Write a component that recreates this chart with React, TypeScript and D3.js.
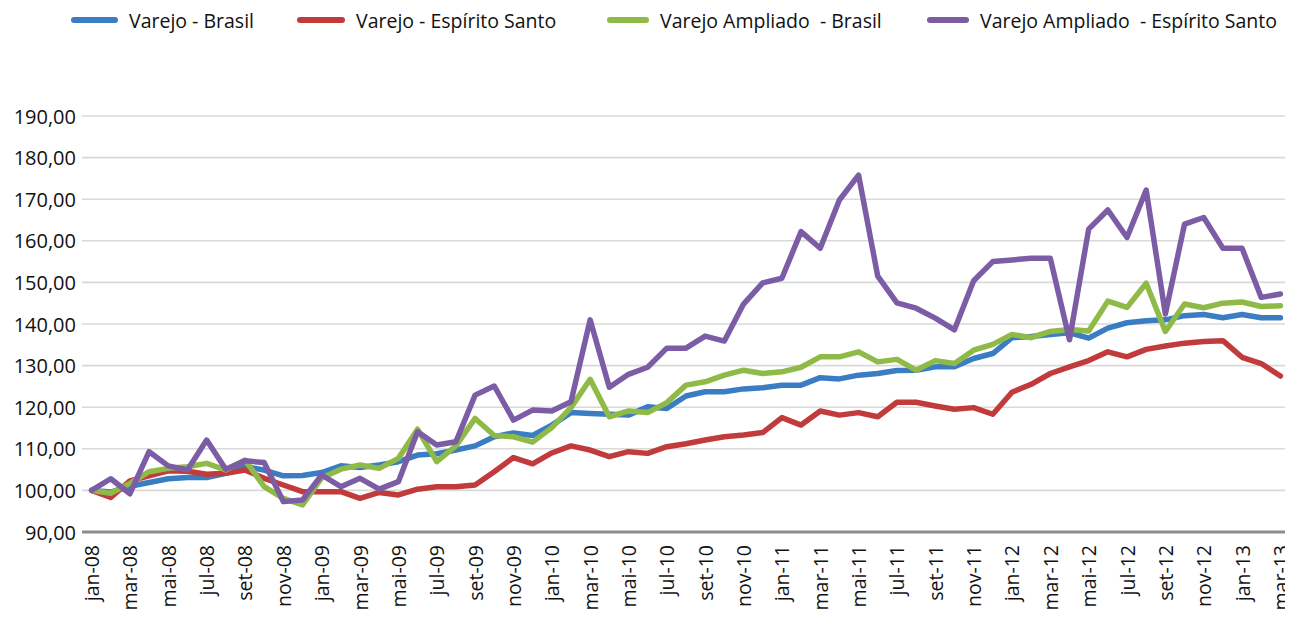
import * as d3 from 'd3';
import React from 'react';

const months = ['jan', 'fev', 'mar', 'abr', 'mai', 'jun', 'jul', 'ago', 'set', 'out', 'nov', 'dez'];
const years = ['08', '09', '10', '11', '12', '13'];
// jan-08 ... mar-13
const categories: string[] = [];
years.forEach((y) => months.forEach((m) => categories.push(`${m}-${y}`)));
categories.length = 63;

const varejoBrasil = [
  100.0, 99.6, 101.0, 101.9, 102.8, 103.1, 103.1, 104.1, 105.7, 104.9, 103.5, 103.6, 104.3,
  105.9, 105.5, 106.1, 106.9, 108.5, 108.8, 109.7, 110.7, 112.9, 113.8, 113.2, 115.7, 118.7,
  118.5, 118.3, 118.1, 120.1, 119.7, 122.7, 123.7, 123.7, 124.4, 124.7, 125.3, 125.3, 127.1,
  126.8, 127.7, 128.1, 128.8, 128.9, 129.7, 129.7, 131.7, 132.9, 136.7, 137.0, 137.5, 137.9,
  136.6, 139.0, 140.3, 140.8, 141.0, 142.0, 142.3, 141.5, 142.3, 141.5, 141.5,
];

const varejoES = [
  100.0, 98.3, 102.3, 103.5, 104.7, 104.6, 103.9, 104.1, 104.9, 102.9, 101.3, 99.7, 99.7,
  99.7, 98.1, 99.5, 98.9, 100.3, 100.9, 100.9, 101.3, 104.5, 107.9, 106.4, 109.0, 110.7,
  109.7, 108.1, 109.3, 108.9, 110.5, 111.2, 112.1, 112.9, 113.3, 113.9, 117.5, 115.7, 119.1,
  118.1, 118.7, 117.7, 121.2, 121.2, 120.3, 119.5, 119.9, 118.3, 123.6, 125.5, 128.1, 129.7,
  131.2, 133.3, 132.1, 133.9, 134.7, 135.4, 135.8, 136.0, 132.0, 130.5, 127.5,
];

const ampliadoBrasil = [
  100.0, 99.3, 101.7, 104.5, 105.3, 105.7, 106.5, 104.9, 107.3, 100.9, 98.1, 96.5, 103.0,
  105.1, 106.1, 105.3, 107.7, 114.7, 106.9, 110.7, 117.3, 113.2, 112.9, 111.6, 115.1, 119.9,
  126.7, 117.7, 119.1, 118.7, 121.1, 125.3, 126.1, 127.7, 128.9, 128.1, 128.5, 129.6, 132.1,
  132.1, 133.3, 130.9, 131.5, 128.9, 131.2, 130.5, 133.7, 135.1, 137.5, 136.7, 138.2, 138.7,
  138.3, 145.5, 144.0, 149.8, 138.2, 144.8, 143.9, 145.0, 145.3, 144.2, 144.4,
];

const ampliadoES = [
  100.0, 102.8, 99.2, 109.3, 105.9, 104.9, 112.1, 105.1, 107.1, 106.7, 97.3, 97.7, 103.7,
  100.9, 102.9, 100.3, 102.1, 114.1, 110.9, 111.7, 122.9, 125.1, 116.9, 119.3, 119.1, 121.3,
  141.0, 124.8, 127.9, 129.6, 134.2, 134.2, 137.1, 135.9, 144.8, 149.9, 151.0, 162.2, 158.2,
  169.8, 175.8, 151.5, 145.1, 143.8, 141.4, 138.6, 150.4, 155.0, 155.4, 155.8, 155.8, 136.2,
  162.8, 167.4, 160.8, 172.2, 142.4, 164.0, 165.6, 158.2, 158.2, 146.4, 147.2,
];

const yTicks = [90, 100, 110, 120, 130, 140, 150, 160, 170, 180, 190];

const seriesNames = [
  'Varejo - Brasil',
  'Varejo - Espírito Santo',
  'Varejo Ampliado  - Brasil',
  'Varejo Ampliado  - Espírito Santo',
];
const seriesColors = ['#3a7dc2', '#c13b3c', '#8fba48', '#7b5ca5'];
const seriesData = [varejoBrasil, varejoES, ampliadoBrasil, ampliadoES];

const W = 1285;
const H = 613;
const FONT = '"Open Sans", sans-serif';

// legend layout (swatch start x, text start x) in page coords
const legendX = [
  [71, 129],
  [297, 356],
  [607, 660],
  [927, 980],
];

export default function App() {
  const x = d3.scalePoint<string>().domain(categories).range([82, 1290]).padding(0.5);
  const y = d3.scaleLinear().domain([90, 190]).range([532, 116]);
  const line = (vals: number[]) =>
    d3
      .line<number>()
      .x((_, i) => x(categories[i]) as number)
      .y((v) => y(v))(vals) as string;

  return (
    <svg width={W} height={H} style={{ display: 'block', overflow: 'visible' }}>
      <g transform="translate(-8,-8)">
        {yTicks.map((t) => (
          <g key={t}>
            <line
              x1={82}
              x2={1290}
              y1={y(t)}
              y2={y(t)}
              stroke={t === 90 ? '#8c8c8c' : '#d9d9d9'}
              strokeWidth={t === 90 ? 3 : 1.6}
            />
            <text
              x={76}
              y={y(t)}
              textAnchor="end"
              dominantBaseline="central"
              fontFamily={FONT}
              fontSize={20}
              fill="#111"
            >
              {d3.format('.2f')(t).replace('.', ',')}
            </text>
          </g>
        ))}
        {categories.map((c, i) =>
          i % 2 === 0 ? (
            <text
              key={c}
              transform={`translate(${x(c)},${545}) rotate(-90)`}
              textAnchor="end"
              dominantBaseline="central"
              fontFamily={FONT}
              fontSize={19.5}
              fill="#111"
            >
              {c}
            </text>
          ) : null
        )}
        {seriesData.map((vals, s) => (
          <path
            key={s}
            d={line(vals)}
            fill="none"
            stroke={seriesColors[s]}
            strokeWidth={5.5}
            strokeLinejoin="round"
            strokeLinecap="round"
          />
        ))}
        {seriesNames.map((n, s) => (
          <g key={n}>
            <line
              x1={legendX[s][0] + 3}
              x2={legendX[s][1] - 14}
              y1={20}
              y2={20}
              stroke={seriesColors[s]}
              strokeWidth={6}
              strokeLinecap="round"
            />
            <text
              x={legendX[s][1]}
              y={20}
              dominantBaseline="central"
              fontFamily={FONT}
              fontSize={19.5}
              fill="#111"
              style={{ whiteSpace: 'pre' }}
            >
              {n}
            </text>
          </g>
        ))}
      </g>
    </svg>
  );
}
